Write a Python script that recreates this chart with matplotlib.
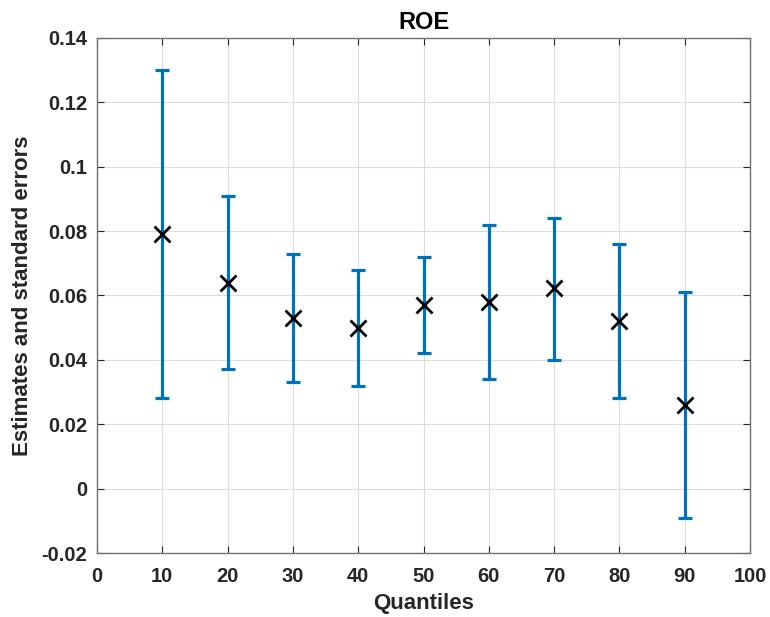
import matplotlib
matplotlib.use("Agg")
import matplotlib.pyplot as plt
import numpy as np

quantiles = [10, 20, 30, 40, 50, 60, 70, 80, 90]
estimates = [0.079, 0.064, 0.053, 0.050, 0.057, 0.058, 0.0622, 0.052, 0.026]
upper = [0.130, 0.091, 0.073, 0.068, 0.072, 0.082, 0.084, 0.076, 0.061]
lower = [0.028, 0.037, 0.033, 0.032, 0.042, 0.034, 0.040, 0.028, -0.009]
xticks = [0, 10, 20, 30, 40, 50, 60, 70, 80, 90, 100]
yticks = [-0.02, 0, 0.02, 0.04, 0.06, 0.08, 0.1, 0.12, 0.14]
ytick_labels = ["-0.02", "0", "0.02", "0.04", "0.06", "0.08", "0.1", "0.12", "0.14"]

plt.rcParams['font.family'] = ['Liberation Sans', 'DejaVu Sans']

fig = plt.figure(figsize=(7.7, 6.17), dpi=100)
ax = fig.add_axes([0.126, 0.1037, 0.848, 0.835])

est = np.array(estimates)
yerr = np.vstack([est - np.array(lower), np.array(upper) - est])
ax.errorbar(quantiles, est, yerr=yerr, fmt='none', ecolor='#0072BD',
            elinewidth=2.3, capsize=5, capthick=2.3, zorder=3)
ax.plot(quantiles, est, linestyle='none', marker='x', color='black',
        markersize=11, markeredgewidth=2, zorder=4)

ax.set_xlim(0, 100)
ax.set_ylim(-0.02, 0.14)
ax.set_xticks(xticks)
ax.set_yticks(yticks)
ax.set_yticklabels(ytick_labels)
ax.grid(True, color='#dcdcdc', linewidth=0.8)
ax.set_axisbelow(True)
ax.tick_params(direction='in', length=5, width=0.8, top=True, right=True,
               labelsize=14.5, colors='#262626')
ax.tick_params(axis='x', pad=10)
ax.tick_params(axis='y', pad=7)
for lab in ax.get_xticklabels() + ax.get_yticklabels():
    lab.set_fontweight('bold')
for s in ax.spines.values():
    s.set_color('#707070')
    s.set_linewidth(1.0)

ax.set_xlabel('Quantiles', fontsize=16, fontweight='bold', color='#262626', labelpad=5)
ax.set_ylabel('Estimates and standard errors', fontsize=16, fontweight='bold',
              color='#262626', labelpad=6)
ax.set_title('ROE', fontsize=17, fontweight='bold', color='black', pad=6)

fig.savefig('out.png', dpi=100, facecolor='white')
